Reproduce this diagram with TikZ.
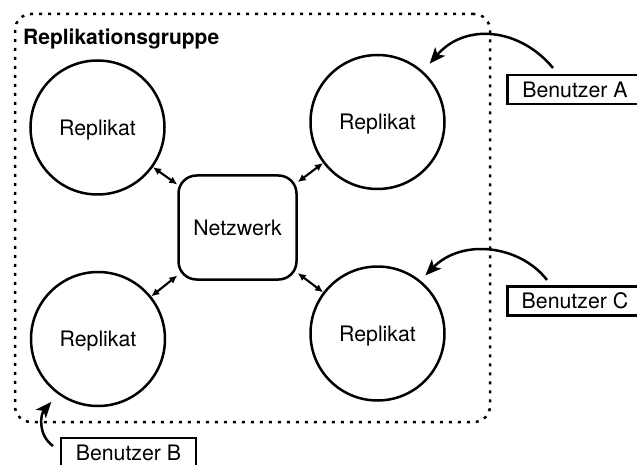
\documentclass[tikz,border=0pt]{standalone}
\usepackage{fontspec}
\setmainfont{TeX Gyre Heros}
\usetikzlibrary{arrows.meta}
\begin{document}
\begin{tikzpicture}[x=1pt,y=-1pt,
  every node/.style={font=\fontsize{21.3}{25}\selectfont,text depth=0pt},
  replica/.style={circle,draw,line width=2.5pt,minimum size=134pt,inner sep=0pt},
  netbox/.style={rectangle,draw,line width=2.5pt,rounded corners=18pt,
    minimum width=118pt,minimum height=104pt,inner sep=0pt},
  group/.style={draw,line width=2.5pt,dash pattern=on 3pt off 6pt,
    rounded corners=16pt,inner sep=0pt},
  userbox/.style={rectangle,draw,line width=2.5pt,minimum width=135pt,
    minimum height=29pt,inner sep=0pt},
  sync/.style={{Latex[length=8pt,width=7.5pt]}-{Latex[length=8pt,width=7.5pt]},
    line width=2.1pt},
  request/.style={-{Stealth[length=16pt,width=13pt,inset=4pt]},line width=2.5pt},
]
\useasboundingbox (0,0) rectangle (637,465);
\clip (0,0) rectangle (637,465);

% replication group frame and its title
\node[group,minimum width=475pt,minimum height=408pt] (grp) at (252.5,218) {};
\node[font=\fontsize{21}{25}\selectfont\bfseries,anchor=base west,inner sep=0pt]
  (grplabel) at (23,44.5) {Replikationsgruppe};

% replicas and the network
\node[replica] (tl) at (97.5,127.5) {Replikat};
\node[replica] (tr) at (377.5,122) {Replikat};
\node[replica] (bl) at (98,339) {Replikat};
\node[replica] (br) at (377.5,333.5) {Replikat};
\node[netbox] (net) at (237.5,227.5) {Netzwerk};

% users
\node[userbox] (ua) at (575,89.5) {Benutzer A};
\node[userbox] (uc) at (575,301) {Benutzer C};
\node[userbox] (ub) at (128.5,452.5) {Benutzer B};

% replica <-> network links
\draw[sync] (tl) -- (net);
\draw[sync] (tr) -- (net);
\draw[sync] (bl) -- (net);
\draw[sync] (br) -- (net);

% user requests
\coordinate (uastart) at (553,68);
\coordinate (ucstart) at (547,280);
\coordinate (ubstart) at (53,446);
\draw[request,shorten >=10pt] (uastart) .. controls +(-33,-40) and +(42,-49) .. (tr.48);
\draw[request,shorten >=7pt] (ucstart) .. controls +(-27,-35) and +(41.6,-42.5) .. (br.51);
\draw[request,shorten >=10pt] (ubstart) .. controls +(-15,-11) and +(-17.9,20.8) .. (bl.234);
\end{tikzpicture}
\end{document}
